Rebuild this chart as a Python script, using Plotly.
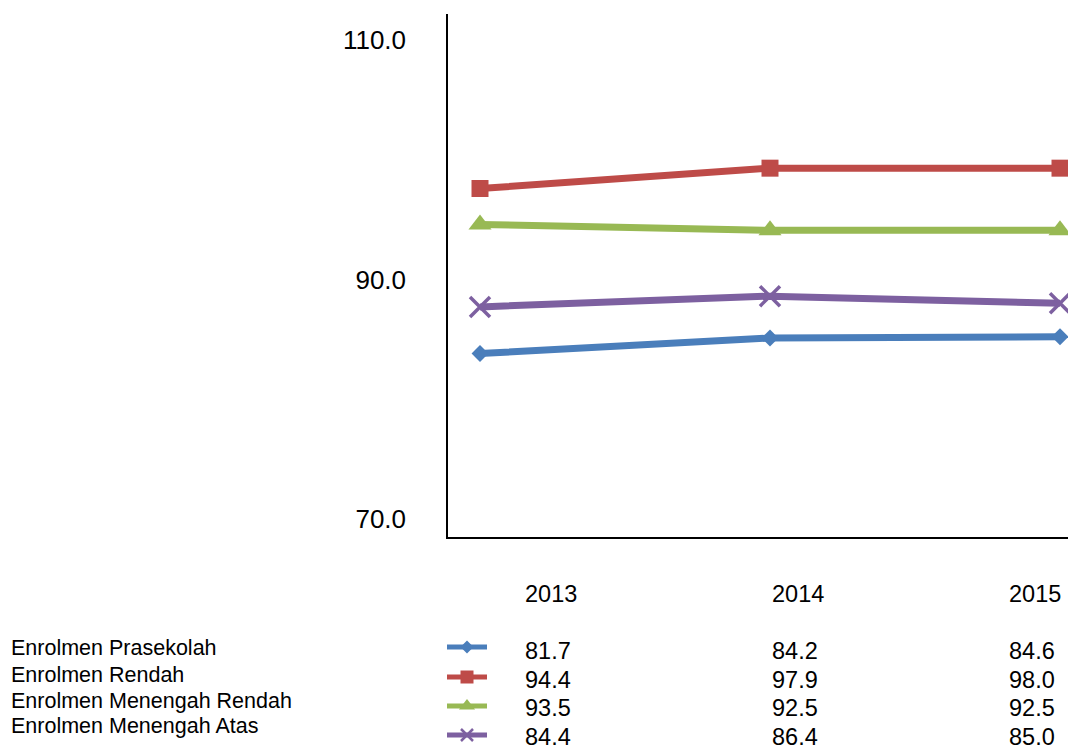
import plotly.graph_objects as go

# ---- data ----
years = [2013, 2014, 2015]
series_names = ["Enrolmen Prasekolah", "Enrolmen Rendah",
                "Enrolmen Menengah Rendah", "Enrolmen Menengah Atas"]
prasekolah = [83.8, 85.1, 85.2]
rendah = [97.6, 99.3, 99.3]
menengah_rendah = [94.6, 94.1, 94.1]
menengah_atas = [87.7, 88.6, 88.0]
# values printed in the data table
table_prasekolah = ["81.7", "84.2", "84.6"]
table_rendah = ["94.4", "97.9", "98.0"]
table_menengah_rendah = ["93.5", "92.5", "92.5"]
table_menengah_atas = ["84.4", "86.4", "85.0"]
y_ticks = [70, 90, 110]

colors = ["#4A7EBB", "#BE4B48", "#98B954", "#7D60A0"]
symbols = ["diamond", "square", "triangle-up", "x-thin"]
main_sizes = [13, 17, 20, 20]
key_sizes = [10, 13, 14, 12]

W, H = 1068, 748
FONT = "Liberation Sans, Arial, Helvetica, sans-serif"

plot_vals = [prasekolah, rendah, menengah_rendah, menengah_atas]
table_vals = [table_prasekolah, table_rendah, table_menengah_rendah, table_menengah_atas]

fig = go.Figure()
for i in range(4):
    mk = dict(symbol=symbols[i], size=main_sizes[i], color=colors[i])
    if symbols[i] == "x-thin":
        mk["line"] = dict(color=colors[i], width=3.5)
    fig.add_trace(go.Scatter(
        x=years, y=plot_vals[i], mode="lines+markers", name=series_names[i],
        line=dict(color=colors[i], width=7), marker=mk, showlegend=False,
        xaxis="x", yaxis="y"))

# legend keys in the table area (pixel-like overlay axes)
key_x0, key_x1 = 447, 487
key_rows = [647, 677, 706, 735]
for i in range(4):
    mk = dict(symbol=symbols[i], size=key_sizes[i], color=colors[i])
    if symbols[i] == "x-thin":
        mk["line"] = dict(color=colors[i], width=2.5)
    fig.add_trace(go.Scatter(
        x=[key_x0, (key_x0 + key_x1) / 2, key_x1],
        y=[key_rows[i]] * 3, mode="lines", line=dict(color=colors[i], width=5),
        showlegend=False, hoverinfo="skip", xaxis="x2", yaxis="y2", cliponaxis=False))
    fig.add_trace(go.Scatter(
        x=[(key_x0 + key_x1) / 2], y=[key_rows[i]], mode="markers", marker=mk,
        showlegend=False, hoverinfo="skip", xaxis="x2", yaxis="y2", cliponaxis=False))

# layout geometry (pixels)
plot_left, plot_top, plot_bottom = 448, 14, 537
px_per_year = 290.0
x0 = 2013 - (480 - plot_left) / px_per_year
x1 = x0 + (W - plot_left) / px_per_year
px_per_unit = 11.96
y_at_90 = 279.4
ylo = 90 - (plot_bottom - y_at_90) / px_per_unit
yhi = 90 + (y_at_90 - plot_top) / px_per_unit

annotations = []
def ann(text, px, py, size, anchor="left"):
    annotations.append(dict(text=text, x=px / W, y=1 - py / H, xref="paper", yref="paper",
                            xanchor=anchor, yanchor="middle", showarrow=False,
                            font=dict(family=FONT, size=size, color="#000000")))

col_x = [523, 770, 1007]
for j, yr in enumerate(years):
    ann(str(yr), col_x[j], 593.5, 23.5)
val_rows = [651, 679.5, 708, 737]
for i in range(4):
    for j in range(3):
        ann(table_vals[i][j], col_x[j], val_rows[i], 23.5)
label_rows = [647.5, 674.5, 701, 725.5]
for i in range(4):
    ann(series_names[i], 9, label_rows[i], 21.5)

fig.update_layout(
    width=W, height=H, margin=dict(l=0, r=0, t=0, b=0),
    paper_bgcolor="white", plot_bgcolor="rgba(0,0,0,0)",
    font=dict(family=FONT, color="#000000"),
    xaxis=dict(domain=[plot_left / W, 1], range=[x0, x1], showgrid=False, zeroline=False,
               showline=True, linecolor="#000000", linewidth=2, showticklabels=False,
               ticks=""),
    yaxis=dict(domain=[1 - plot_bottom / H, 1 - plot_top / H], range=[ylo, yhi],
               showgrid=False, zeroline=False, showline=True, linecolor="#000000",
               linewidth=1.5, tickvals=y_ticks, tickformat=".1f", ticks="",
               ticklabelstandoff=35, tickfont=dict(family=FONT, size=26, color="#000000")),
    xaxis2=dict(domain=[0, 1], range=[0, W], visible=False, fixedrange=True),
    yaxis2=dict(domain=[0, 1], range=[H, 0], visible=False, fixedrange=True,
                anchor="x2"),
    annotations=annotations,
)

fig.write_html("out.html", config={"displayModeBar": False},
               post_script="document.body.style.margin='0px';document.body.style.padding='0px';"
                           "document.body.style.overflow='hidden';")
